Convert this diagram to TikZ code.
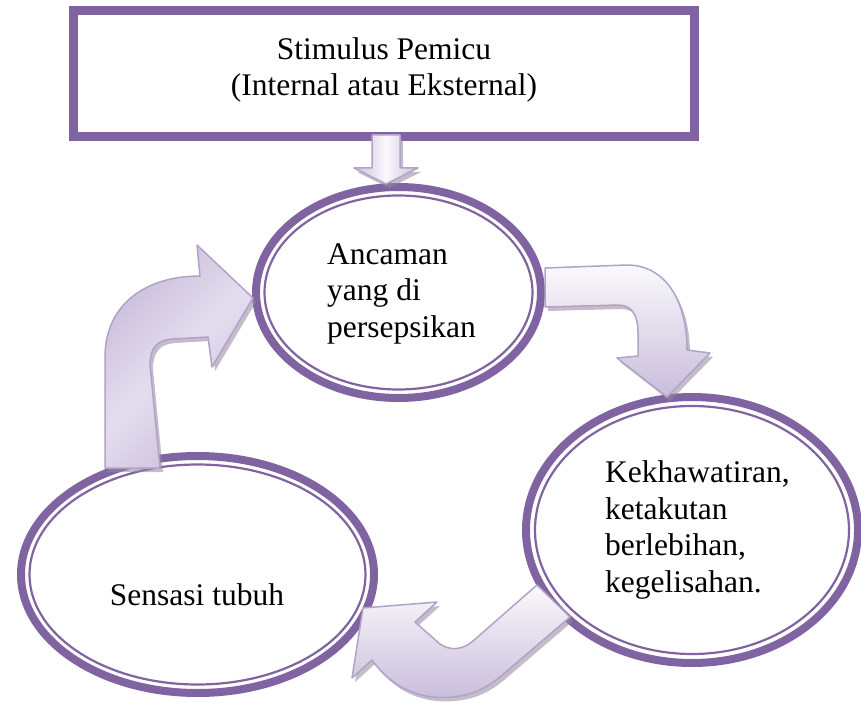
\documentclass[tikz,border=0pt]{standalone}
\usepackage{fontspec}
\setmainfont{Liberation Serif}
\usetikzlibrary{shapes.geometric}
\definecolor{ringpurple}{HTML}{8064A2}
\definecolor{arrowedge}{HTML}{B3A2C7}
\definecolor{arrowlight}{HTML}{FAF9FC}
\definecolor{arrowmid}{HTML}{E4DDEE}
\definecolor{arrowdark}{HTML}{C9BDDB}
\definecolor{arrowshadow}{HTML}{8F879C}
\tikzset{
  ring/.style={ellipse, draw=ringpurple, line width=8pt, fill=white, inner sep=0pt},
  boxframe/.style={draw=ringpurple, line width=8pt, fill=white, inner sep=0pt},
  innerring/.style={draw=ringpurple, line width=2.2pt},
  txt/.style={font=\fontsize{31.5}{36.5}\selectfont, inner sep=0pt, align=left},
  bigarrow/.style={draw=arrowedge, line width=1.5pt, line join=round,
    preaction={fill=arrowshadow, fill opacity=0.55, draw=none,
      transform canvas={shift={(3,4)}}}},
}
\begin{document}
\begin{tikzpicture}[x=1pt,y=-1pt]
\useasboundingbox (0,0) rectangle (861,703);
% top box
\node[boxframe, minimum width=622pt, minimum height=127pt] (stim) at (384,73.5) {};
\draw[innerring] ([shift={(8,8)}]stim.north west) rectangle ([shift={(-8,-8)}]stim.south east);
\node[txt, align=center, anchor=base] (stimtxt) at (384,96) {Stimulus Pemicu\\(Internal atau Eksternal)};
% ellipses
\node[ring, minimum width=285pt, minimum height=211pt] (anc) at (398.5,292.5) {};
\draw[innerring] (anc.center) ellipse [x radius=134, y radius=97];
\node[ring, minimum width=332pt, minimum height=266pt] (kek) at (692,530) {};
\draw[innerring] (kek.center) ellipse [x radius=157, y radius=124];
\node[ring, minimum width=353pt, minimum height=237pt] (sen) at (197.5,574.5) {};
\draw[innerring] (sen.center) ellipse [x radius=168, y radius=110];
% texts
\node[txt, anchor=base west] (anctxt) at (327,337) {Ancaman\\yang di\\persepsikan};
\node[txt, anchor=base west] (kektxt) at (605,592) {Kekhawatiran,\\ketakutan\\berlebihan,\\kegelisahan.};
\node[txt, anchor=base] (sentxt) at (197,605) {Sensasi tubuh};
% down arrow
\draw[bigarrow, left color=arrowdark, right color=arrowdark, middle color=arrowlight]
  (372,135) -- (400,135) -- (400,168) -- (418,168) -- (386,184) -- (354,168) -- (372,168) -- cycle;
% left arrow (Sensasi -> Ancaman)
\draw[bigarrow, left color=arrowdark, right color=arrowdark, middle color=arrowmid, shading angle=45]
  (105,468) -- (105,357) .. controls (105,305) and (145,276) .. (200,276)
  -- (197,245) -- (253,298) -- (212,367) -- (208,337) -- (172,339)
  .. controls (157,340) and (150,348) .. (150,365) -- (160,468) -- cycle;
% right arrow (Ancaman -> Kekhawatiran)
\draw[bigarrow, top color=arrowlight, bottom color=arrowdark]
  (545,268) -- (627,265) .. controls (665,265) and (687,300) .. (687,350)
  -- (710,353) -- (667,397) -- (617,358) -- (638,356) -- (638,333)
  .. controls (638,315) and (632,305) .. (618,305) -- (545,307) -- cycle;
% bottom arrow (Kekhawatiran -> Sensasi)
\draw[bigarrow, top color=arrowlight, bottom color=arrowdark]
  (537,585) -- (473,641) .. controls (463,650) and (450,651) .. (440,644)
  -- (415,622) -- (437,602) -- (363,608) -- (352,678) -- (372,660)
  .. controls (392,688) and (420,700) .. (452,697)
  .. controls (472,695) and (485,689) .. (500,677) -- (570,617) -- cycle;
\end{tikzpicture}
\end{document}
